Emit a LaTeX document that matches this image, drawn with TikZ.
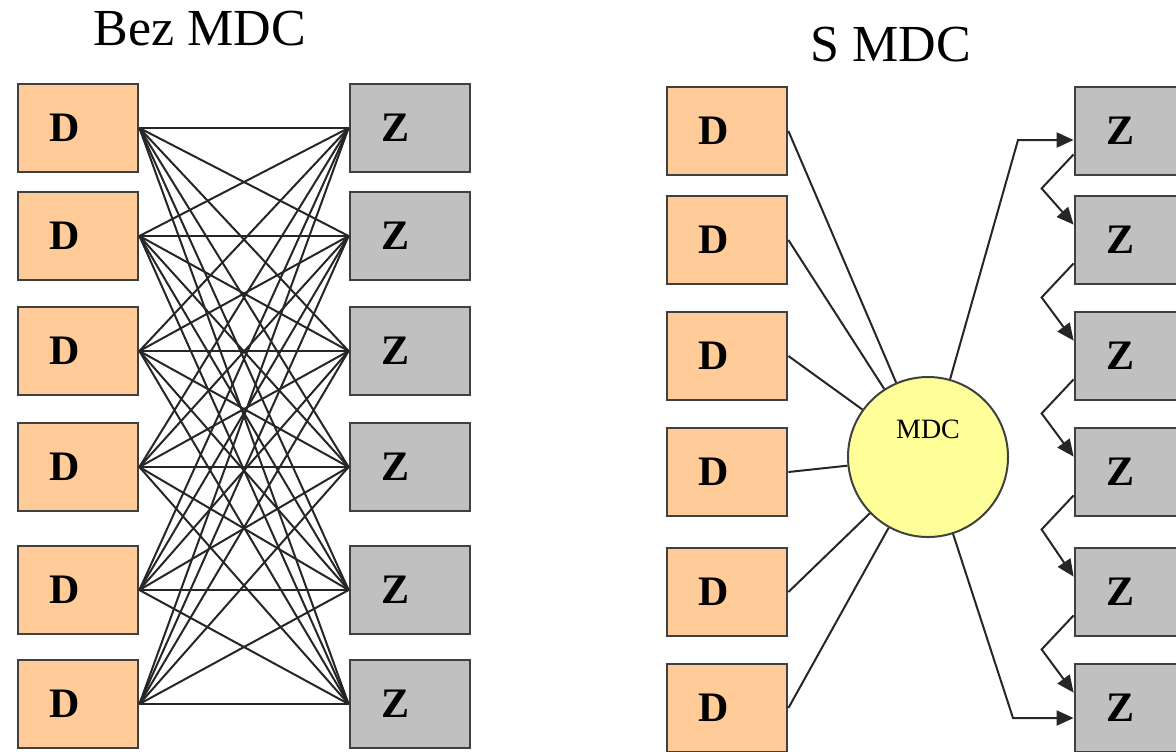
\documentclass[tikz,border=0pt]{standalone}
\usepackage{fontspec}
\setmainfont{Liberation Serif}
\usetikzlibrary{arrows.meta, positioning}

\definecolor{peach}{HTML}{FFCC99}
\definecolor{boxgray}{HTML}{C0C0C0}
\definecolor{paleyellow}{HTML}{FFFF99}
\definecolor{edgegray}{HTML}{404040}

\begin{document}
\begin{tikzpicture}[
    x=0.5pt, y=-0.5pt,
    box/.style={rectangle, draw=edgegray, line width=1.4pt, minimum width=60pt, minimum height=44pt,
      inner ysep=0pt, inner xsep=15.5pt, text width=29pt, align=left, font=\fontsize{21}{21}\selectfont\bfseries},
    dbox/.style={box, fill=peach},
    zbox/.style={box, fill=boxgray},
    hub/.style={circle, draw=edgegray, line width=1pt, fill=paleyellow, minimum size=80pt, inner sep=0pt},
    link/.style={draw=black!85, line width=1pt},
    arrow/.style={link, -{Triangle[length=8.5pt, width=7.5pt]}},
    title/.style={font=\fontsize{26}{26}\selectfont}
  ]
    \clip (0,0) rectangle (1176,751);

    % left part: every D wired to every Z
    \node[title] (bez) at (200,29) {Bez MDC};
    \foreach \y [count=\i] in {128,236,351,467,590,704} {
      \node[dbox] (ld\i) at (78,\y) {D};
      \node[zbox] (lz\i) at (410,\y) {Z};
    }
    \foreach \i in {1,...,6}
      \foreach \j in {1,...,6}
        \draw[link] (ld\i.east) -- (lz\j.west);

    % right part: everything goes through MDC
    \node[title] (smdc) at (891,45) {S MDC};
    \node[hub, label={[yshift=14pt, font=\fontsize{14}{14}\selectfont]center:MDC}] (mdc) at (928,457) {};
    \foreach \y [count=\i] in {131,240,356,472,592,708} {
      \node[dbox] (rd\i) at (727,\y) {D};
      \node[zbox] (rz\i) at (1135,\y) {Z};
      \draw[link] (rd\i.east) -- (mdc);
    }
    \coordinate (up) at (1018,140);
    \coordinate (down) at (1013,718);
    \draw[arrow] (mdc) -- (up) -- (up -| rz1.west);
    \draw[arrow] (mdc) -- (down) -- (down -| rz6.west);
    \foreach \i [evaluate=\i as \j using int(\i+1)] in {1,...,5}
      \draw[arrow] ([yshift=11pt]rz\i.south west) -- ([xshift=-16pt, yshift=-6pt]rz\i.south west)
        -- ([yshift=-15pt]rz\j.north west);
  \end{tikzpicture}
\end{document}
